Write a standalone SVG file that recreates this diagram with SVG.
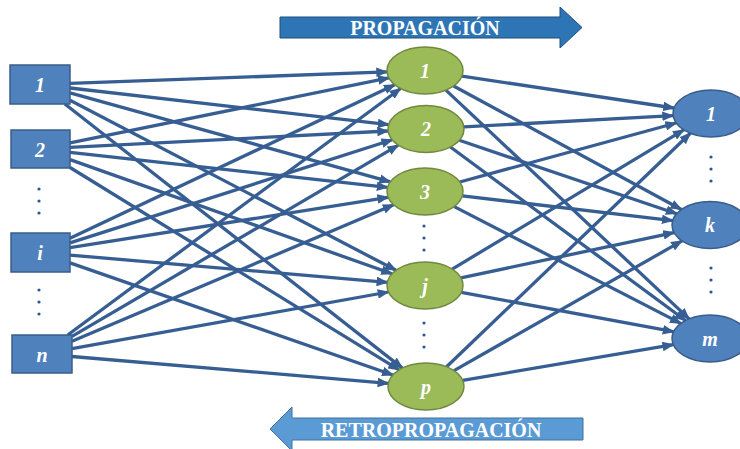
<svg xmlns="http://www.w3.org/2000/svg" width="740" height="449" viewBox="0 0 740 449">
<defs>
<marker id="ah" viewBox="0 0 10 8" refX="9" refY="4" markerWidth="12" markerHeight="9.6" markerUnits="userSpaceOnUse" orient="auto">
<path d="M0,0 L10,4 L0,8 z" fill="#375E93"/>
</marker>
<style>
.inp{fill:#4F81BD;stroke:#385D8A;stroke-width:1.5}
.hid{fill:#9BBB59;stroke:#71893F;stroke-width:1.5}
.out{fill:#4F81BD;stroke:#385D8A;stroke-width:1.5}
.lbl{font-family:"Liberation Serif",serif;font-style:italic;font-weight:bold;font-size:20px;fill:#FFFFFF;text-anchor:middle}
.ttl{font-family:"Liberation Serif",serif;font-weight:bold;font-size:20px;fill:#FFFFFF;text-anchor:middle}
.dot{fill:#2F5597}
#connectors line{stroke:#375E93;stroke-width:3.3;marker-end:url(#ah)}
</style>
</defs>
<rect width="740" height="449" fill="#FFFFFF"/>

<g id="arrow-propagacion">
<polygon points="280,17 560,17 560,7 582,27.5 560,48 560,38 280,38" fill="#2E75B6" stroke="#1F4E79" stroke-width="1"/>
<text class="ttl" x="425" y="34.5">PROPAGACIÓN</text>
</g>
<g id="arrow-retropropagacion">
<polygon points="583,418 292,418 292,407 270,429 292,451 292,440 583,440" fill="#5B9BD5" stroke="#41719C" stroke-width="1"/>
<text class="ttl" x="431" y="436.5">RETROPROPAGACIÓN</text>
</g>

<g id="connectors">
<line x1="70" y1="83.4" x2="387.1" y2="71.9"/>
<line x1="70" y1="88" x2="388.6" y2="124.7"/>
<line x1="70" y1="92.8" x2="390.3" y2="181.9"/>
<line x1="70" y1="100.2" x2="396" y2="270.3"/>
<line x1="64.9" y1="104" x2="402.4" y2="368.1"/>

<line x1="70" y1="142.9" x2="388.9" y2="77.9"/>
<line x1="70" y1="147.4" x2="388.1" y2="131"/>
<line x1="70" y1="152.3" x2="387.6" y2="187.4"/>
<line x1="70" y1="159.6" x2="392" y2="273.8"/>
<line x1="70" y1="167.5" x2="399.1" y2="369.9"/>

<line x1="70" y1="238.3" x2="394.8" y2="84.8"/>
<line x1="70" y1="242.9" x2="392.3" y2="139.8"/>
<line x1="70" y1="247.7" x2="388.2" y2="197.3"/>
<line x1="70" y1="255.1" x2="387.4" y2="282.3"/>
<line x1="70" y1="262.9" x2="392.9" y2="375"/>

<line x1="67.7" y1="335" x2="400.6" y2="88.5"/>
<line x1="72" y1="336.4" x2="398.4" y2="145.2"/>
<line x1="72" y1="341.3" x2="393.7" y2="204.8"/>
<line x1="72" y1="348.6" x2="388.5" y2="292"/>
<line x1="72" y1="356.5" x2="388.4" y2="383.3"/>

<line x1="461.9" y1="76.1" x2="674.1" y2="108"/>
<line x1="453.6" y1="86" x2="681.4" y2="209.5"/>
<line x1="445.9" y1="90.1" x2="689.1" y2="318.9"/>

<line x1="463.9" y1="126.9" x2="673.1" y2="115.6"/>
<line x1="459.3" y1="140.3" x2="676.7" y2="213.7"/>
<line x1="450.4" y1="147" x2="685.6" y2="320.5"/>

<line x1="459.8" y1="182" x2="676.2" y2="123"/>
<line x1="462.3" y1="195.9" x2="672.7" y2="220.6"/>
<line x1="454.2" y1="206.6" x2="680.8" y2="323.4"/>

<line x1="452.2" y1="269.1" x2="683.8" y2="129.9"/>
<line x1="460.9" y1="277.9" x2="674.1" y2="232.6"/>
<line x1="461.4" y1="292.3" x2="673.6" y2="331.7"/>

<line x1="446.6" y1="366.8" x2="690.4" y2="133.2"/>
<line x1="454" y1="370.6" x2="682" y2="240.9"/>
<line x1="462.7" y1="380.3" x2="673.3" y2="344.7"/>
</g>

<g id="input-1"><rect class="inp" x="10" y="65" width="60" height="39"/><text class="lbl" x="40" y="91.5">1</text></g>
<g id="input-2"><rect class="inp" x="11" y="130" width="59" height="38"/><text class="lbl" x="40" y="156.5">2</text></g>
<g id="input-i"><rect class="inp" x="11" y="233" width="59" height="39"/><text class="lbl" x="40" y="259.5">i</text></g>
<g id="input-n"><rect class="inp" x="12" y="335" width="60" height="38"/><text class="lbl" x="42" y="361.5">n</text></g>
<g id="input-dots">
<circle class="dot" cx="39" cy="189" r="1.6"/><circle class="dot" cx="39" cy="201" r="1.6"/><circle class="dot" cx="39" cy="213" r="1.6"/>
<circle class="dot" cx="39" cy="290" r="1.6"/><circle class="dot" cx="39" cy="302" r="1.6"/><circle class="dot" cx="39" cy="314" r="1.6"/>
</g>

<g id="hidden-1"><ellipse class="hid" cx="425" cy="70.5" rx="38" ry="23.5"/><text class="lbl" x="425" y="77.5">1</text></g>
<g id="hidden-2"><ellipse class="hid" cx="426" cy="129" rx="38" ry="23.5"/><text class="lbl" x="426" y="136">2</text></g>
<g id="hidden-3"><ellipse class="hid" cx="425" cy="191.5" rx="38" ry="23.5"/><text class="lbl" x="425" y="198.5">3</text></g>
<g id="hidden-j"><ellipse class="hid" cx="425" cy="285.5" rx="38" ry="23.5"/><text class="lbl" x="425" y="292.5">j</text></g>
<g id="hidden-p"><ellipse class="hid" cx="426" cy="386.5" rx="38" ry="23.5"/><text class="lbl" x="426" y="393.5">p</text></g>
<g id="hidden-dots">
<circle class="dot" cx="424" cy="226" r="1.6"/><circle class="dot" cx="424" cy="238" r="1.6"/><circle class="dot" cx="424" cy="250" r="1.6"/>
<circle class="dot" cx="424" cy="323" r="1.6"/><circle class="dot" cx="424" cy="335" r="1.6"/><circle class="dot" cx="424" cy="347" r="1.6"/>
</g>

<g id="output-1"><ellipse class="out" cx="711" cy="113.5" rx="38" ry="23.5"/><text class="lbl" x="711" y="120.5">1</text></g>
<g id="output-k"><ellipse class="out" cx="710" cy="225" rx="38" ry="23.5"/><text class="lbl" x="710" y="232">k</text></g>
<g id="output-m"><ellipse class="out" cx="710" cy="338.5" rx="38" ry="23.5"/><text class="lbl" x="710" y="345.5">m</text></g>
<g id="output-dots">
<circle class="dot" cx="711" cy="157" r="1.6"/><circle class="dot" cx="711" cy="169" r="1.6"/><circle class="dot" cx="711" cy="181" r="1.6"/>
<circle class="dot" cx="711" cy="268" r="1.6"/><circle class="dot" cx="711" cy="280" r="1.6"/><circle class="dot" cx="711" cy="292" r="1.6"/>
</g>
</svg>
